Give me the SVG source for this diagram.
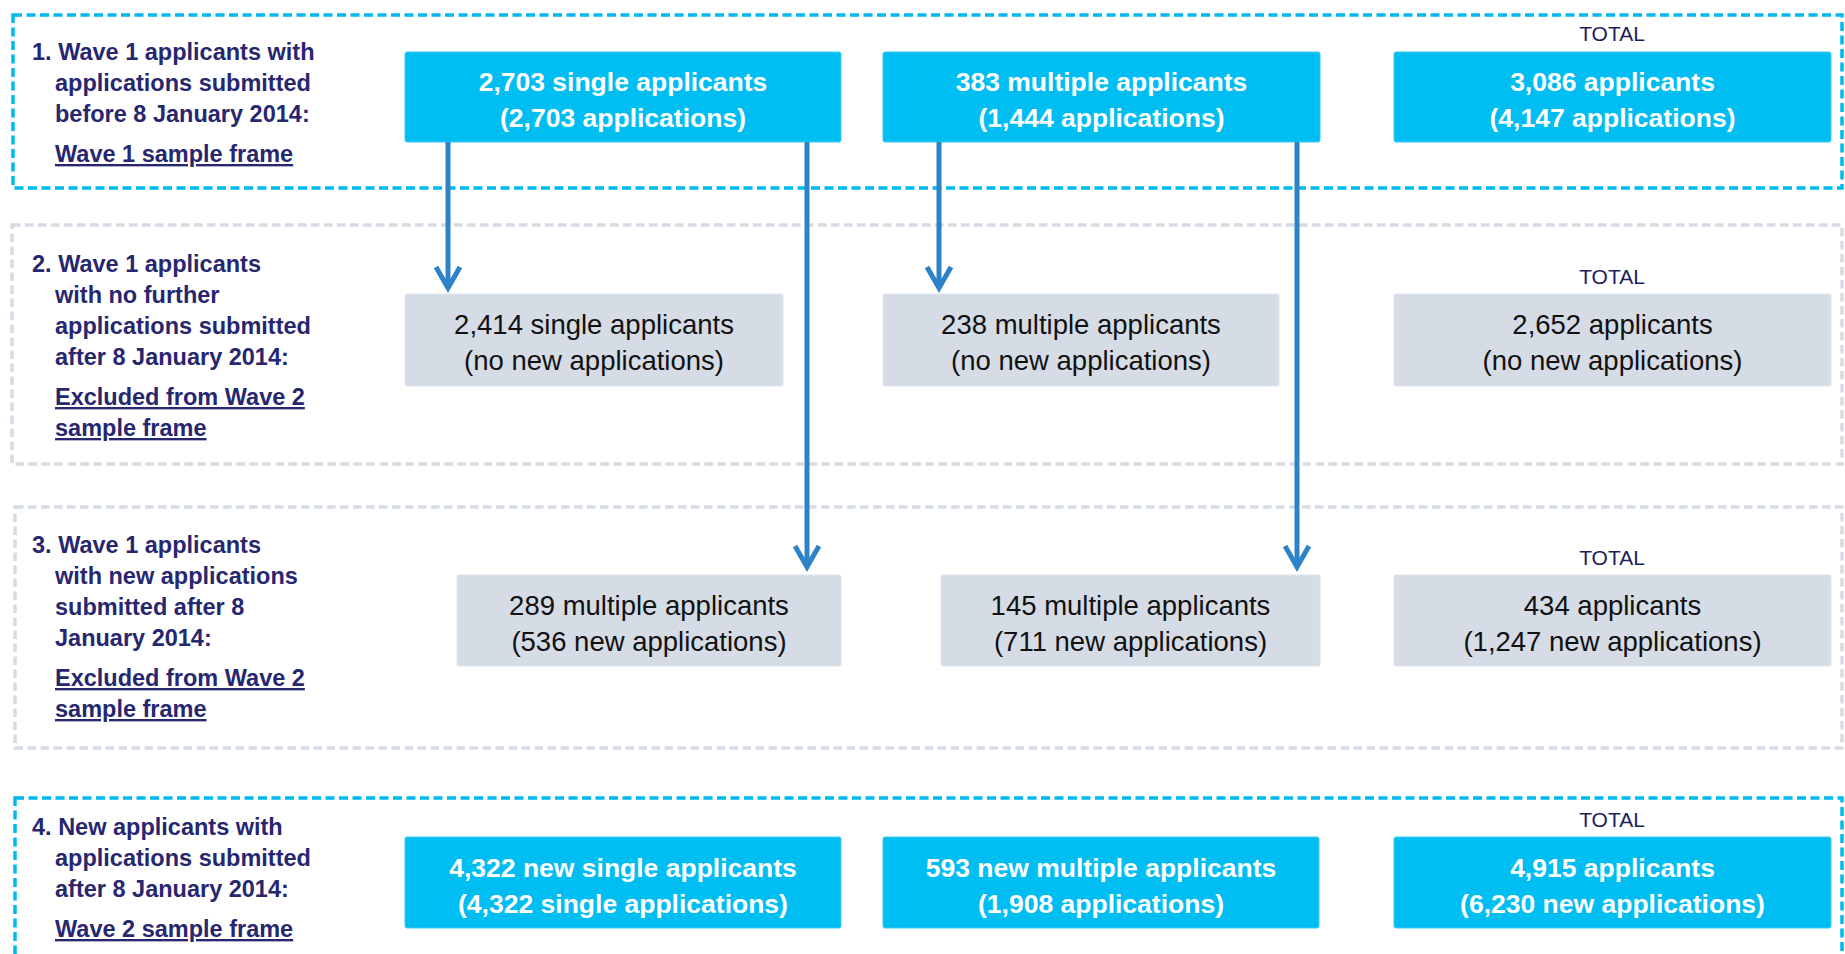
<svg xmlns="http://www.w3.org/2000/svg" width="1845" height="954" viewBox="0 0 1845 954">
<defs>
<style>
.bg{fill:#ffffff}
.secC{fill:none;stroke:#00B9F1;stroke-width:3.5;stroke-dasharray:9 4.5}
.secG{fill:none;stroke:#D5DCE5;stroke-width:3.5;stroke-dasharray:8.5 4.5}
.bc{fill:#00BDF2;stroke:#3CCBF5;stroke-width:1}
.bg2{fill:#D5DCE5;stroke:#DDE3EA;stroke-width:1}
.tw{font-family:"Liberation Sans",Arial,sans-serif;font-size:26.5px;font-weight:bold;fill:#ffffff;text-anchor:middle}
.tk{font-family:"Liberation Sans",Arial,sans-serif;font-size:27.5px;fill:#111111;text-anchor:middle}
.tot{font-family:"Liberation Sans",Arial,sans-serif;font-size:21px;fill:#1E1E5C;text-anchor:middle}
.lab{font-family:"Liberation Sans",Arial,sans-serif;font-size:23.5px;font-weight:bold;fill:#27276F}
.u{text-decoration:underline}
.conn{fill:none;stroke:#2E83C8;stroke-width:5}
</style>
<marker id="arr" markerUnits="userSpaceOnUse" markerWidth="40" markerHeight="40" viewBox="-30 -20 40 40" refX="0" refY="0" orient="auto">
<path d="M -21 -12 L 0 0 L -21 12" fill="none" stroke="#2E83C8" stroke-width="5"/>
</marker>
</defs>
<rect class="bg" x="0" y="0" width="1845" height="954"/>

<g id="section1">
<rect class="secC" x="13" y="15" width="1829" height="173"/>
<text class="lab" x="32" y="60">1. Wave 1 applicants with</text>
<text class="lab" x="55" y="91">applications submitted</text>
<text class="lab" x="55" y="122">before 8 January 2014:</text>
<text class="lab u" x="55" y="162">Wave 1 sample frame</text>
</g>
<g id="section2">
<rect class="secG" x="12" y="225" width="1830" height="239"/>
<text class="lab" x="32" y="272">2. Wave 1 applicants</text>
<text class="lab" x="55" y="303">with no further</text>
<text class="lab" x="55" y="334">applications submitted</text>
<text class="lab" x="55" y="365">after 8 January 2014:</text>
<text class="lab u" x="55" y="405">Excluded from Wave 2</text>
<text class="lab u" x="55" y="436">sample frame</text>
</g>
<g id="section3">
<rect class="secG" x="15" y="507" width="1827" height="241"/>
<text class="lab" x="32" y="553">3. Wave 1 applicants</text>
<text class="lab" x="55" y="584">with new applications</text>
<text class="lab" x="55" y="615">submitted after 8</text>
<text class="lab" x="55" y="646">January 2014:</text>
<text class="lab u" x="55" y="686">Excluded from Wave 2</text>
<text class="lab u" x="55" y="717">sample frame</text>
</g>
<g id="section4">
<rect class="secC" x="15" y="798" width="1827" height="175"/>
<text class="lab" x="32" y="835">4. New applicants with</text>
<text class="lab" x="55" y="866">applications submitted</text>
<text class="lab" x="55" y="897">after 8 January 2014:</text>
<text class="lab u" x="55" y="937">Wave 2 sample frame</text>
</g>

<g id="r1a"><rect class="bc" x="405" y="52" width="436" height="90" rx="2"/>
<text class="tw" x="623" y="91">2,703 single applicants</text><text class="tw" x="623" y="127">(2,703 applications)</text></g>
<g id="r1b"><rect class="bc" x="883" y="52" width="437" height="90" rx="2"/>
<text class="tw" x="1101.5" y="91">383 multiple applicants</text><text class="tw" x="1101.5" y="127">(1,444 applications)</text></g>
<g id="r1c"><text class="tot" x="1612" y="41">TOTAL</text><rect class="bc" x="1394" y="52" width="437" height="90" rx="2"/>
<text class="tw" x="1612.5" y="91">3,086 applicants</text><text class="tw" x="1612.5" y="127">(4,147 applications)</text></g>

<g id="r2a"><rect class="bg2" x="405" y="294" width="378" height="92" rx="2"/>
<text class="tk" x="594" y="334">2,414 single applicants</text><text class="tk" x="594" y="370">(no new applications)</text></g>
<g id="r2b"><rect class="bg2" x="883" y="294" width="396" height="92" rx="2"/>
<text class="tk" x="1081" y="334">238 multiple applicants</text><text class="tk" x="1081" y="370">(no new applications)</text></g>
<g id="r2c"><text class="tot" x="1612" y="284">TOTAL</text><rect class="bg2" x="1394" y="294" width="437" height="92" rx="2"/>
<text class="tk" x="1612.5" y="334">2,652 applicants</text><text class="tk" x="1612.5" y="370">(no new applications)</text></g>

<g id="r3a"><rect class="bg2" x="457" y="575" width="384" height="91" rx="2"/>
<text class="tk" x="649" y="615">289 multiple applicants</text><text class="tk" x="649" y="651">(536 new applications)</text></g>
<g id="r3b"><rect class="bg2" x="941" y="575" width="379" height="91" rx="2"/>
<text class="tk" x="1130.5" y="615">145 multiple applicants</text><text class="tk" x="1130.5" y="651">(711 new applications)</text></g>
<g id="r3c"><text class="tot" x="1612" y="565">TOTAL</text><rect class="bg2" x="1394" y="575" width="437" height="91" rx="2"/>
<text class="tk" x="1612.5" y="615">434 applicants</text><text class="tk" x="1612.5" y="651">(1,247 new applications)</text></g>

<g id="r4a"><rect class="bc" x="405" y="837" width="436" height="91" rx="2"/>
<text class="tw" x="623" y="877">4,322 new single applicants</text><text class="tw" x="623" y="913">(4,322 single applications)</text></g>
<g id="r4b"><rect class="bc" x="883" y="837" width="436" height="91" rx="2"/>
<text class="tw" x="1101" y="877">593 new multiple applicants</text><text class="tw" x="1101" y="913">(1,908 applications)</text></g>
<g id="r4c"><text class="tot" x="1612" y="827">TOTAL</text><rect class="bc" x="1394" y="837" width="437" height="91" rx="2"/>
<text class="tw" x="1612.5" y="877">4,915 applicants</text><text class="tw" x="1612.5" y="913">(6,230 new applications)</text></g>

<g id="connectors">
<path class="conn" d="M448 142 V288" marker-end="url(#arr)"/>
<path class="conn" d="M807 142 V567" marker-end="url(#arr)"/>
<path class="conn" d="M939 142 V288" marker-end="url(#arr)"/>
<path class="conn" d="M1297 142 V567" marker-end="url(#arr)"/>
</g>
</svg>
